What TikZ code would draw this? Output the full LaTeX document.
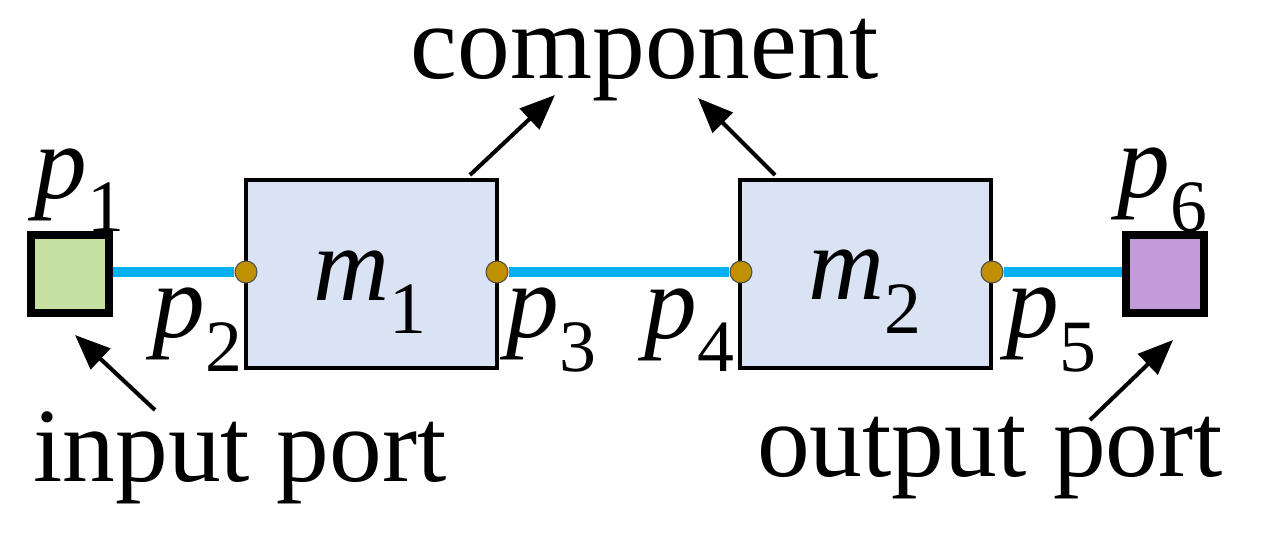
\documentclass[tikz,border=0pt]{standalone}
\usepackage{fontspec}
\setmainfont{Liberation Serif}
\usetikzlibrary{arrows.meta}
\definecolor{boxfill}{HTML}{DAE3F3}
\definecolor{infill}{HTML}{C5E0A0}
\definecolor{outfill}{HTML}{C39BDB}
\definecolor{wire}{HTML}{00B0F0}
\definecolor{dot}{HTML}{BF9000}
\begin{document}
\begin{tikzpicture}[x=0.02cm,y=-0.02cm,
  comp/.style={draw=black,line width=2.3pt,fill=boxfill,minimum width=251*0.02cm,minimum height=188*0.02cm,inner sep=0pt},
  port/.style={draw=black,line width=4.5pt,fill=#1,minimum size=78*0.02cm,inner sep=0pt},
  pin/.style={circle,draw=black!70,line width=0.6pt,fill=dot,minimum size=22*0.02cm,inner sep=0pt},
  wirel/.style={wire,line width=5.7pt},
  lbl/.style={font=\fontsize{60}{62}\selectfont,inner sep=0pt},
  arr/.style={line width=2.3pt,-{Triangle[length=20pt,width=16pt]}}]
\useasboundingbox (0,0) rectangle (1267,543);
\node[comp] (m1) at (371.5,274) {};
\node[comp] (m2) at (865.5,274) {};
\node[port=infill] (in) at (70,274) {};
\node[port=outfill] (out) at (1165,274) {};
\node[pin] (d2) at (246,272) {};
\node[pin] (d3) at (497,272) {};
\node[pin] (d4) at (741,272) {};
\node[pin] (d5) at (992,272) {};
\draw[wirel] (in.east|-d2) -- (d2.west);
\draw[wirel] (d3.east) -- (d4.west);
\draw[wirel] (d5.east) -- (out.west|-d5);
\node[lbl] (t1) at (370,292) {\textit{m}\textsubscript{1}};
\node[lbl] (t2) at (865,292) {\textit{m}\textsubscript{2}};
\node[lbl] (p1) at (80,190) {\textit{p}\textsubscript{1}};
\node[lbl] (p6) at (1163,190) {\textit{p}\textsubscript{6}};
\node[lbl] (p2) at (198,330) {\textit{p}\textsubscript{2}};
\node[lbl] (p3) at (552,330) {\textit{p}\textsubscript{3}};
\node[lbl] (p4) at (690,330) {\textit{p}\textsubscript{4}};
\node[lbl] (p5) at (1052,330) {\textit{p}\textsubscript{5}};
\node[lbl] (c) at (645,60) {component};
\node[lbl] (ip) at (240,458) {input port};
\node[lbl] (op) at (990,458) {output port};
\coordinate (a1s) at (470,175); \coordinate (a1e) at (555,95);
\coordinate (a2s) at (775,175); \coordinate (a2e) at (698,98);
\coordinate (a3s) at (155,410); \coordinate (a3e) at (75,335);
\coordinate (a4s) at (1090,420); \coordinate (a4e) at (1173,340);
\draw[arr] (a1s) -- (a1e);
\draw[arr] (a2s) -- (a2e);
\draw[arr] (a3s) -- (a3e);
\draw[arr] (a4s) -- (a4e);
\end{tikzpicture}
\end{document}
